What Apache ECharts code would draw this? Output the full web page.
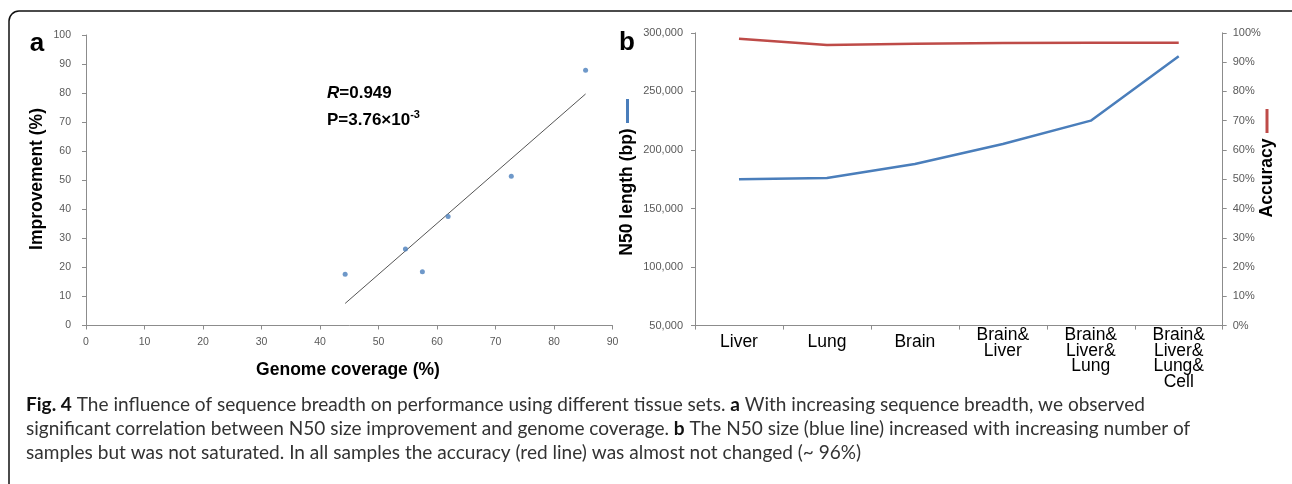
<!DOCTYPE html>
<html>
<head>
<meta charset="utf-8">
<script src="https://cdn.jsdelivr.net/npm/echarts@6/dist/echarts.min.js"></script>
<style>
html,body{margin:0;padding:0;background:#fff;}
#chart{width:1292px;height:484px;}
</style>
</head>
<body>
<div id="chart"></div>
<script>
// ---- Panel a data ----
const coverage = [44.3, 54.6, 57.5, 61.9, 72.7, 85.4];
const improvement = [17.6, 26.3, 18.5, 37.5, 51.4, 87.9];
const fitCoverage = [44.3, 85.4];
const fitImprovement = [7.6, 79.7];
const rText = '0.949';
const pText = '3.76×10';
const pExp = '-3';

// ---- Panel b data ----
const tissues = ['Liver', 'Lung', 'Brain', 'Brain&\nLiver', 'Brain&\nLiver&\nLung', 'Brain&\nLiver&\nLung&\nCell'];
const n50 = [175000, 176000, 188000, 205000, 225000, 280000];
const accuracy = [98.0, 95.8, 96.3, 96.5, 96.6, 96.6];

// ---- Caption ----
const captionLines = [
  [['b', 'Fig. 4'], ['n', ' The influence of sequence breadth on performance using different tissue sets. '], ['b', 'a'], ['n', ' With increasing sequence breadth, we observed']],
  [['n', 'significant correlation between N50 size improvement and genome coverage. '], ['b', 'b'], ['n', ' The N50 size (blue line) increased with increasing number of']],
  [['n', 'samples but was not saturated. In all samples the accuracy (red line) was almost not changed (~ 96%)']]
];

const chart = echarts.init(document.getElementById('chart'), null, {renderer: 'canvas'});
const AX = '#8c8c8c';
const LBL = '#595959';
const FONT = '"Liberation Sans", Arial, sans-serif';
const CAPFONT = 'Lato, "Open Sans", sans-serif';

// fit caption font size to the target width of line 1
const ctx = document.createElement('canvas').getContext('2d');
function lineWidth(line, size) {
  let w = 0;
  line.forEach(([t, s]) => {
    ctx.font = (t === 'b' ? 'bold ' : '') + size + 'px ' + CAPFONT;
    w += ctx.measureText(s).width;
  });
  return w;
}
let capSize = 17;
capSize = capSize * 1120 / lineWidth(captionLines[0], capSize);

function capRich(line) {
  return line.map(([t, s]) => '{' + t + '|' + s.replace(/[{}|]/g, '') + '}').join('');
}

const capStyle = {
  b: {fontFamily: CAPFONT, fontSize: capSize, fontWeight: 'bold', fill: '#111'},
  n: {fontFamily: CAPFONT, fontSize: capSize, fill: '#333'}
};

const capY = [405, 429, 453];

const graphics = [
  {type: 'rect', silent: true, shape: {x: 9, y: 11, width: 1500, height: 700, r: [10, 0, 0, 0]},
   style: {fill: 'none', stroke: '#111', lineWidth: 1.5}},
  {type: 'text', x: 37, y: 44, style: {text: 'a', fontFamily: FONT, fontWeight: 'bold', fontSize: 26, fill: '#000', align: 'center', verticalAlign: 'middle'}},
  {type: 'text', x: 627, y: 43, style: {text: 'b', fontFamily: FONT, fontWeight: 'bold', fontSize: 26, fill: '#000', align: 'center', verticalAlign: 'middle'}},
  {type: 'text', x: 37, y: 179, rotation: Math.PI / 2, style: {text: 'Improvement (%)', fontFamily: FONT, fontWeight: 'bold', fontSize: 17.5, fill: '#000', align: 'center', verticalAlign: 'middle'}},
  {type: 'text', x: 348, y: 370, style: {text: 'Genome coverage (%)', fontFamily: FONT, fontWeight: 'bold', fontSize: 17.5, fill: '#000', align: 'center', verticalAlign: 'middle'}},
  {type: 'text', x: 627, y: 192, rotation: Math.PI / 2, style: {text: 'N50 length (bp)', fontFamily: FONT, fontWeight: 'bold', fontSize: 17.5, fill: '#000', align: 'center', verticalAlign: 'middle'}},
  {type: 'rect', shape: {x: 626, y: 99, width: 3, height: 24}, style: {fill: '#4a7ebb'}},
  {type: 'text', x: 1267, y: 178, rotation: Math.PI / 2, style: {text: 'Accuracy', fontFamily: FONT, fontWeight: 'bold', fontSize: 17.5, fill: '#000', align: 'center', verticalAlign: 'middle'}},
  {type: 'rect', shape: {x: 1265.5, y: 109, width: 3, height: 24}, style: {fill: '#be4b48'}},
  {type: 'text', x: 327, y: 93, style: {text: '{i|R}{b|=' + rText + '}', rich: {
    i: {fontFamily: FONT, fontWeight: 'bold', fontStyle: 'italic', fontSize: 17, fill: '#000'},
    b: {fontFamily: FONT, fontWeight: 'bold', fontSize: 17, fill: '#000'}}, verticalAlign: 'middle'}},
  {type: 'text', x: 327, y: 120, style: {text: '{b|P=' + pText + '}{s|' + pExp + '}', rich: {
    b: {fontFamily: FONT, fontWeight: 'bold', fontSize: 17, fill: '#000'},
    s: {fontFamily: FONT, fontWeight: 'bold', fontSize: 11, fill: '#000', verticalAlign: 'top', padding: [0, 0, 10, 0]}}, verticalAlign: 'middle'}}
];
captionLines.forEach((line, i) => {
  graphics.push({type: 'text', x: 26, y: capY[i], style: {text: capRich(line), rich: capStyle, verticalAlign: 'middle'}});
});

function valAxisCommon(extra) {
  return Object.assign({
    axisLine: {show: true, lineStyle: {color: AX, width: 1}},
    axisTick: {show: true, inside: false, length: 4, lineStyle: {color: AX}},
    splitLine: {show: false},
    axisLabel: {color: LBL, fontFamily: FONT, fontSize: 10.5}
  }, extra);
}

const option = {
  animation: false,
  backgroundColor: '#fff',
  grid: [
    {left: 86, top: 35, width: 526.5, height: 290.5},
    {left: 695, top: 32.8, width: 527.7, height: 292.8}
  ],
  xAxis: [
    valAxisCommon({gridIndex: 0, type: 'value', min: 0, max: 90, interval: 10,
      axisLabel: {color: LBL, fontFamily: FONT, fontSize: 10.5, margin: 11}}),
    {gridIndex: 1, type: 'category', data: tissues, boundaryGap: true,
      axisLine: {show: true, lineStyle: {color: AX}},
      axisTick: {show: true, length: 4, interval: 0, lineStyle: {color: AX}},
      splitLine: {show: false},
      axisLabel: {interval: 0, margin: 2, color: '#000', fontFamily: FONT, fontSize: 17.5, lineHeight: 15.5,
        formatter: v => v.indexOf('\n') >= 0 ? v : '{s|' + v + '}',
        rich: {s: {color: '#000', fontFamily: FONT, fontSize: 17.5, lineHeight: 30}}}}
  ],
  yAxis: [
    valAxisCommon({gridIndex: 0, type: 'value', min: 0, max: 100, interval: 10,
      axisLabel: {color: LBL, fontFamily: FONT, fontSize: 10.5, margin: 15}}),
    valAxisCommon({gridIndex: 1, type: 'value', min: 50000, max: 300000, interval: 50000,
      axisLabel: {color: LBL, fontFamily: FONT, fontSize: 11, margin: 12,
        formatter: v => v.toLocaleString('en-US')}}),
    valAxisCommon({gridIndex: 1, type: 'value', position: 'right', min: 0, max: 100, interval: 10,
      axisLabel: {color: LBL, fontFamily: FONT, fontSize: 11, margin: 10, formatter: '{value}%'}})
  ],
  series: [
    {type: 'line', xAxisIndex: 0, yAxisIndex: 0, data: fitCoverage.map((x, i) => [x, fitImprovement[i]]),
      symbol: 'none', lineStyle: {color: '#555', width: 1}, silent: true, z: 2},
    {type: 'scatter', xAxisIndex: 0, yAxisIndex: 0, data: coverage.map((x, i) => [x, improvement[i]]),
      symbolSize: 5, itemStyle: {color: '#4a7ebb'}, z: 3},
    {type: 'line', xAxisIndex: 1, yAxisIndex: 1, data: n50, symbol: 'none',
      lineStyle: {color: '#4a7ebb', width: 2.5}},
    {type: 'line', xAxisIndex: 1, yAxisIndex: 2, data: accuracy, symbol: 'none',
      lineStyle: {color: '#be4b48', width: 2.5}}
  ],
  graphic: graphics
};
chart.setOption(option);
</script>
</body>
</html>
